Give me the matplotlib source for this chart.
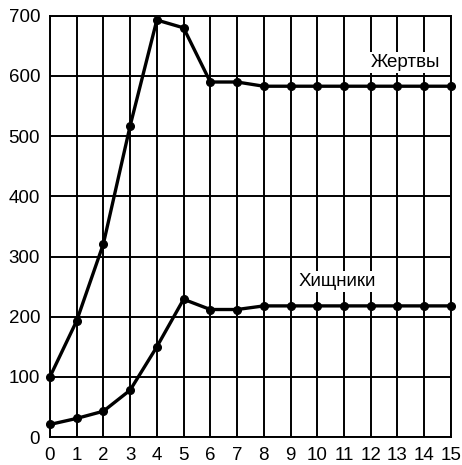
import matplotlib

matplotlib.use("Agg")
import matplotlib.pyplot as plt  # noqa: E402

plt.rcParams["font.family"] = ["Liberation Sans", "DejaVu Sans"]

steps = list(range(16))
prey = [100, 193, 321, 517, 693, 680, 590, 590, 583, 583, 583, 583, 583, 583, 583, 583]
predators = [21, 31, 43, 78, 150, 229, 212, 212, 218, 218, 218, 218, 218, 218, 218, 218]
y_ticks = [0, 100, 200, 300, 400, 500, 600, 700]

fig = plt.figure(figsize=(4.62, 4.65), dpi=100)
ax = fig.add_axes([0.108, 0.060, 0.868, 0.906])

ax.set_xlim(0, 15)
ax.set_ylim(0, 700)
ax.set_xticks(steps)
ax.set_yticks(y_ticks)
ax.grid(True, color="black", linewidth=1.4)
ax.set_axisbelow(True)
for spine in ax.spines.values():
    spine.set_linewidth(1.4)
ax.tick_params(length=0, labelsize=13.5, pad=7)

line_style = dict(color="black", linewidth=2.4, marker="o", markersize=5.5, clip_on=False, zorder=3)
ax.plot(steps, prey, **line_style)
ax.plot(steps, predators, **line_style)

label_box = dict(facecolor="white", edgecolor="none", pad=1.5)
ax.text(13.3, 622, "Жертвы", fontsize=13.5, ha="center", va="center", bbox=label_box, zorder=2)
ax.text(10.75, 258, "Хищники", fontsize=13.5, ha="center", va="center", bbox=label_box, zorder=2)

fig.savefig("out.png", dpi=100, facecolor="white")
